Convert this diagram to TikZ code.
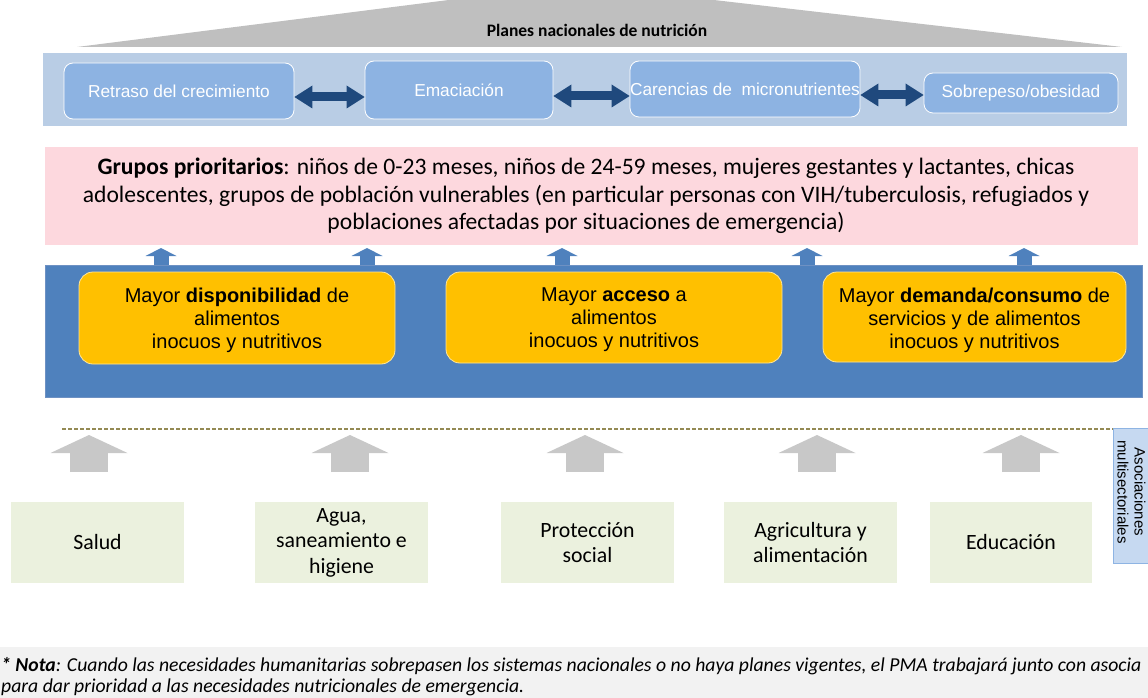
\documentclass[tikz,border=0pt]{standalone}
\usepackage{fontspec}
\setmainfont{Carlito}
\newfontfamily\arialf{Liberation Sans}
\usetikzlibrary{arrows.meta}
\definecolor{trigrey}{RGB}{191,191,191}
\definecolor{bandblue}{RGB}{185,205,229}
\definecolor{boxblue}{RGB}{141,179,226}
\definecolor{darkblue}{RGB}{31,73,125}
\definecolor{pinkbg}{RGB}{253,216,222}
\definecolor{midblue}{RGB}{79,129,189}
\definecolor{midblueline}{RGB}{110,145,195}
\definecolor{gold}{RGB}{255,192,0}
\definecolor{goldline}{RGB}{255,230,153}
\definecolor{sectorbg}{RGB}{235,241,222}
\definecolor{arrowgrey}{RGB}{200,200,200}
\definecolor{olive}{RGB}{148,138,84}
\definecolor{assocbg}{RGB}{198,217,241}
\definecolor{assocline}{RGB}{142,180,227}
\definecolor{notebg}{RGB}{242,242,242}
\begin{document}
\begin{tikzpicture}[x=1pt,y=-1pt,
  probbox/.style={rectangle, rounded corners=9pt, fill=boxblue, draw=white, line width=0.8pt, text=white, font=\arialf\fontsize{17.3}{20}\selectfont, inner sep=0pt},
  dblarrow/.style={draw=darkblue, line width=9pt, {Triangle[width=23pt,length=18pt,line width=0pt]}-{Triangle[width=23pt,length=18pt,line width=0pt]}},
  goalbox/.style={rectangle, rounded corners=14pt, fill=gold, draw=goldline, line width=0.8pt, inner sep=0pt},
  goaltext/.style={align=center, font=\arialf\fontsize{20}{23}\selectfont, inner sep=0pt},
  uparrow/.style={draw=midblue, line width=15pt, -{Triangle[width=31pt,length=8pt,line width=0pt]}},
  greyarrow/.style={draw=arrowgrey, line width=38pt, -{Triangle[width=77pt,length=18pt,line width=0pt]}},
  sectorbox/.style={rectangle, fill=sectorbg, minimum height=81pt, align=center, font=\fontsize{21.8}{25.5}\selectfont, inner sep=0pt},
]
\useasboundingbox (0,0) rectangle (1148,698);
\begin{scope}
\clip (0,0) rectangle (1148,698);

% top triangle and title
\fill[trigrey] (77,47) -- (575,-16) -- (1122,47) -- cycle;
\node[font=\bfseries\fontsize{17.5}{20}\selectfont] (title) at (597,30) {Planes nacionales de nutrición};

% light blue band with problem boxes
\node[rectangle, fill=bandblue, minimum width=1084pt, minimum height=73pt, inner sep=0pt] (band) at (585,89.5) {};
\node[probbox, minimum width=230pt, minimum height=56pt] (b1) at (179,91) {Retraso del crecimiento};
\node[probbox, minimum width=188pt, minimum height=58pt] (b2) at (459,90) {Emaciación};
\node[probbox, minimum width=230pt, minimum height=56pt] (b3) at (745,89) {Carencias de\ \ micronutrientes};
\node[probbox, minimum width=194pt, minimum height=40pt] (b4) at (1021,93) {Sobrepeso/obesidad};
\draw[dblarrow] ([yshift=-6pt]b1.east) -- ([yshift=-6pt]b1.east -| b2.west);
\draw[dblarrow] ([yshift=-6pt]b2.east) -- ([yshift=-6pt]b2.east -| b3.west);
\draw[dblarrow] ([yshift=-6pt]b3.east) -- ([yshift=-6pt]b3.east -| b4.west);

% priority groups
\node[rectangle, fill=pinkbg, minimum width=1093pt, minimum height=98pt, inner sep=0pt] (groups) at (591.5,196) {};
\node[align=center, font=\fontsize{23.6}{27.5}\selectfont, inner sep=0pt] (groupstext) at (586,196)
  {\textbf{Grupos prioritarios}: niños de 0-23 meses, niños de 24-59 meses, mujeres gestantes y lactantes, chicas\\
   adolescentes, grupos de población vulnerables (en particular personas con VIH/tuberculosis, refugiados y\\
   poblaciones afectadas por situaciones de emergencia)};

% outcomes band
\node[rectangle, fill=midblue, draw=midblueline, line width=0.8pt, minimum width=1097pt, minimum height=132pt, inner sep=0pt] (levers) at (593.5,331) {};
\node[goalbox, minimum width=316pt, minimum height=92pt] (y1) at (237,318) {};
\node[goalbox, minimum width=336pt, minimum height=91pt] (y2) at (614,317.5) {};
\node[goalbox, minimum width=303pt, minimum height=90pt] (y3) at (974.5,317) {};
\node[goaltext] (y1t) at (237,320.5) {Mayor \textbf{disponibilidad} de\\alimentos\\inocuos y nutritivos};
\node[goaltext] (y2t) at (614,320) {Mayor \textbf{acceso} a\\alimentos\\inocuos y nutritivos};
\node[goaltext] (y3t) at (974.5,320) {Mayor \textbf{demanda/consumo} de\\servicios y de alimentos\\inocuos y nutritivos};

% small blue arrows
\foreach \i/\x in {1/161,2/367,3/562,4/807,5/1024}{
  \coordinate (ua\i) at (\x,265);
  \coordinate (ub\i) at (\x,248);
  \draw[uparrow] (ua\i) -- (ub\i);
}

% dashed line and partnerships box
\node[rectangle, fill=assocbg, draw=assocline, line width=0.8pt, minimum width=48pt, minimum height=135pt, inner sep=0pt, anchor=north west] (assoc) at (1113,428) {};
\node[rotate=-90, align=center, font=\arialf\fontsize{15}{17}\selectfont, inner sep=0pt] (assoctext) at (1131.5,492) {Asociaciones\\multisectoriales};
\coordinate (dashstart) at (62,429);
\draw[olive, line width=1.3pt, dash pattern=on 4pt off 2pt] (dashstart) -- (dashstart -| assoc.west);

% sector boxes
\node[sectorbox, minimum width=173pt] (s1) at (97.5,542.5) {Salud};
\node[sectorbox, minimum width=173pt] (s2) at (341.5,542.5) {\raisebox{-2.5pt}{\begin{tabular}{@{}c@{}}Agua,\\saneamiento e\\higiene\end{tabular}}};
\node[sectorbox, minimum width=173pt] (s3) at (587.5,542.5) {Protección\\social};
\node[sectorbox, minimum width=173pt] (s4) at (810.5,542.5) {Agricultura y\\alimentación};
\node[sectorbox, minimum width=162pt] (s5) at (1011,542.5) {Educación};

% grey arrows
\foreach \i/\x in {1/89,2/350,3/585,4/817,5/1021}{
  \coordinate (ga\i) at (\x,472);
  \coordinate (gb\i) at (\x,435);
  \draw[greyarrow] (ga\i) -- (gb\i);
}

% note
\fill[notebg] (0,647) rectangle (1148,698);
\node[anchor=north west, align=left, inner sep=0pt, font=\itshape\fontsize{19.7}{21.5}\selectfont] (note) at (1,657)
  {\textbf{* Nota}: Cuando las necesidades humanitarias sobrepasen los sistemas nacionales o no haya planes vigentes, el PMA trabajará junto con asocia\\
   para dar prioridad a las necesidades nutricionales de emergencia.};
\end{scope}
\end{tikzpicture}
\end{document}
